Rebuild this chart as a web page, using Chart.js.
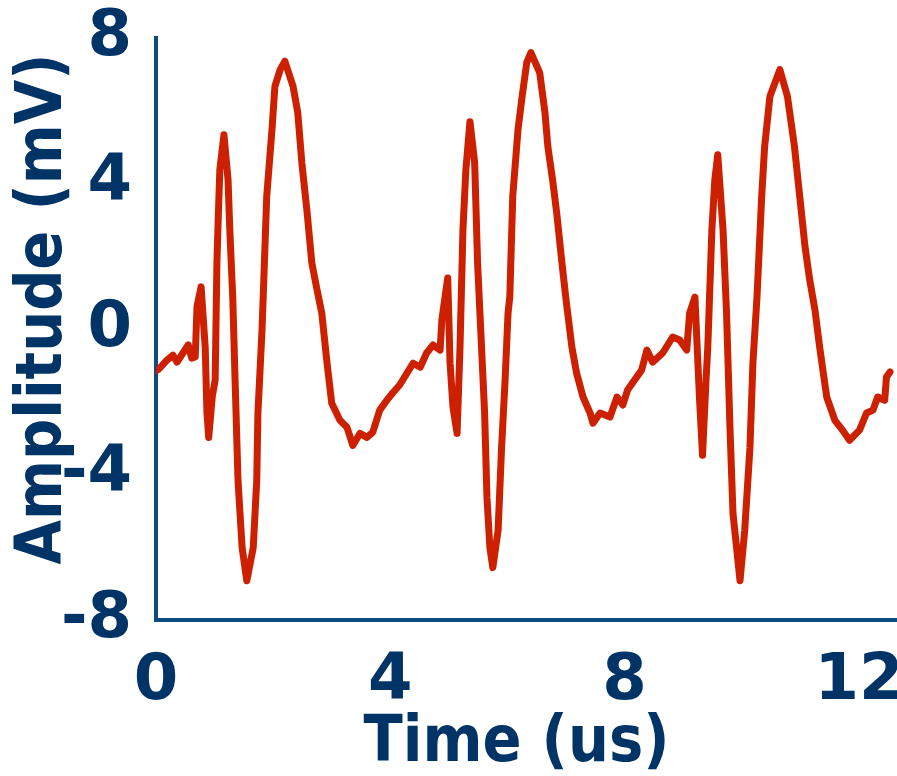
<!DOCTYPE html>
<html>
<head>
<meta charset="utf-8">
<script src="https://cdn.jsdelivr.net/npm/chart.js@4.4.1/dist/chart.umd.min.js"></script>
<style>
  html, body { margin: 0; padding: 0; background: #ffffff; }
  #wrap { width: 897px; height: 776px; }
</style>
</head>
<body>
<div id="wrap"><canvas id="chart" width="897" height="776"></canvas></div>
<script>
var timeUs = [
  0.00, 0.05, 0.19, 0.29, 0.36, 0.46, 0.55, 0.61, 0.67, 0.70, 0.77, 0.84, 0.87, 0.90, 0.96, 1.01,
  1.04, 1.06, 1.09, 1.16, 1.23, 1.26, 1.31, 1.35, 1.40, 1.47, 1.55, 1.66, 1.72, 1.74, 1.81, 1.83,
  1.89, 1.98, 2.03, 2.12, 2.20, 2.34, 2.42, 2.49, 2.58, 2.66, 2.75, 2.83, 2.92, 3.00, 3.14, 3.26,
  3.36, 3.48, 3.60, 3.70, 3.82, 3.94, 4.04, 4.16, 4.39, 4.51, 4.62, 4.73, 4.85, 4.88, 4.98, 5.02,
  5.07, 5.14, 5.19, 5.24, 5.29, 5.36, 5.44, 5.49, 5.53, 5.61, 5.65, 5.70, 5.75, 5.84, 5.90, 5.96,
  6.01, 6.04, 6.09, 6.18, 6.25, 6.33, 6.40, 6.55, 6.64, 6.69, 6.77, 6.84, 6.93, 7.00, 7.10, 7.18,
  7.29, 7.41, 7.46, 7.58, 7.75, 7.87, 7.97, 8.05, 8.17, 8.29, 8.38, 8.48, 8.65, 8.82, 8.94, 9.06,
  9.11, 9.20, 9.28, 9.33, 9.39, 9.42, 9.49, 9.54, 9.59, 9.68, 9.74, 9.80, 9.85, 9.97, 10.05, 10.14,
  10.19, 10.26, 10.34, 10.39, 10.48, 10.65, 10.78, 10.90, 10.99, 11.08, 11.16, 11.25, 11.33, 11.45, 11.59, 11.72,
  11.84, 12.01, 12.13, 12.24, 12.32, 12.44, 12.47, 12.53
];
var amplitudeMv = [
  -1.15, -1.10, -0.85, -0.72, -0.91, -0.66, -0.44, -0.80, -0.77, 0.61, 1.16, -0.50, -2.31, -2.98, -1.87, -1.40,
  1.82, 2.92, 4.38, 5.34, 4.10, 2.73, 0.88, -1.40, -4.16, -6.01, -6.92, -6.01, -4.16, -2.31, -0.03, 0.88,
  3.64, 5.48, 6.67, 7.13, 7.36, 6.67, 5.95, 4.57, 3.20, 1.82, 1.07, 0.44, -0.94, -2.04, -2.51, -2.70,
  -3.20, -2.87, -2.98, -2.84, -2.23, -1.96, -1.76, -1.54, -0.94, -1.05, -0.66, -0.44, -0.58, 0.25, 1.40, -0.94,
  -2.15, -2.87, -0.50, 2.73, 4.38, 5.70, 4.57, 1.82, 0.44, -2.31, -4.63, -6.01, -6.56, -5.54, -3.25, -1.40,
  0.44, 0.88, 3.64, 5.48, 6.39, 7.33, 7.60, 7.05, 5.95, 5.01, 4.10, 3.20, 1.82, 0.80, -0.50, -1.21,
  -1.87, -2.31, -2.59, -2.31, -2.42, -1.87, -2.09, -1.68, -1.40, -1.13, -0.58, -0.91, -0.66, -0.22, -0.30, -0.58,
  0.44, 0.88, -1.96, -3.47, -1.40, -0.50, 2.73, 4.10, 4.79, 2.73, 0.44, -2.78, -5.07, -6.92, -5.54, -3.25,
  -0.94, 0.88, 3.64, 5.01, 6.39, 7.13, 6.39, 5.01, 3.64, 2.26, 1.35, 0.52, -0.50, -1.87, -2.51, -2.78,
  -3.06, -2.78, -2.31, -2.23, -1.87, -1.96, -1.32, -1.18
];
var xTicks = [0, 4, 8, 12];
var yTicks = [-8, -4, 0, 4, 8];
var xRange = [0, 12.65];
var yRange = [-8, 8];

var navy = '#003366';
var axisBlue = '#0d4a80';
var traceRed = '#cc2000';

var points = timeUs.map(function(t, i){
  return { x: t, y: amplitudeMv[i] };
});

var tickFont = { family: 'DejaVu Sans', weight: 'bold', size: 64, lineHeight: 1 };
var titleFont = { family: 'DejaVu Sans Condensed', weight: 'bold', size: 64, lineHeight: 1 };

var ctx = document.getElementById('chart').getContext('2d');
var chart = new Chart(ctx, {
  type: 'line',
  data: {
    datasets: [{
      data: points,
      borderColor: traceRed,
      borderWidth: 7,
      borderJoinStyle: 'round',
      borderCapStyle: 'round',
      pointRadius: 0,
      tension: 0,
      fill: false
    }]
  },
  options: {
    responsive: false,
    animation: false,
    layout: { padding: { top: 38, right: 0, left: 0, bottom: 0 } },
    plugins: { legend: { display: false }, tooltip: { enabled: false } },
    scales: {
      x: {
        type: 'linear',
        min: xRange[0],
        max: xRange[1],
        afterFit: function(scale){
          scale.height = 156;
          scale.paddingLeft = 0;
          scale.paddingRight = 0;
        },
        afterBuildTicks: function(scale){
          scale.ticks = xTicks.map(function(v){ return { value: v }; });
        },
        grid: { display: false, drawTicks: false },
        border: { display: true, color: axisBlue, width: 4 },
        ticks: { color: navy, font: tickFont, padding: 30, maxRotation: 0, autoSkip: false },
        // trailing space shifts the centred title a bit to the left
        title: { display: true, text: 'Time (us) ', color: navy, font: titleFont, padding: { top: 0, bottom: 0 } }
      },
      y: {
        type: 'linear',
        min: yRange[0],
        max: yRange[1],
        afterFit: function(scale){
          scale.width = 156;
          scale.paddingTop = 0;
          scale.paddingBottom = 0;
        },
        afterBuildTicks: function(scale){
          scale.ticks = yTicks.map(function(v){ return { value: v }; });
        },
        grid: { display: false, drawTicks: false },
        border: { display: true, color: axisBlue, width: 4 },
        ticks: { color: navy, font: tickFont, padding: 24, autoSkip: false },
        // leading spaces nudge the rotated title up a little
        title: { display: true, text: '  Amplitude (mV)', color: navy, font: titleFont, padding: { top: 12, bottom: 0 } }
      }
    }
  }
});
</script>
</body>
</html>
